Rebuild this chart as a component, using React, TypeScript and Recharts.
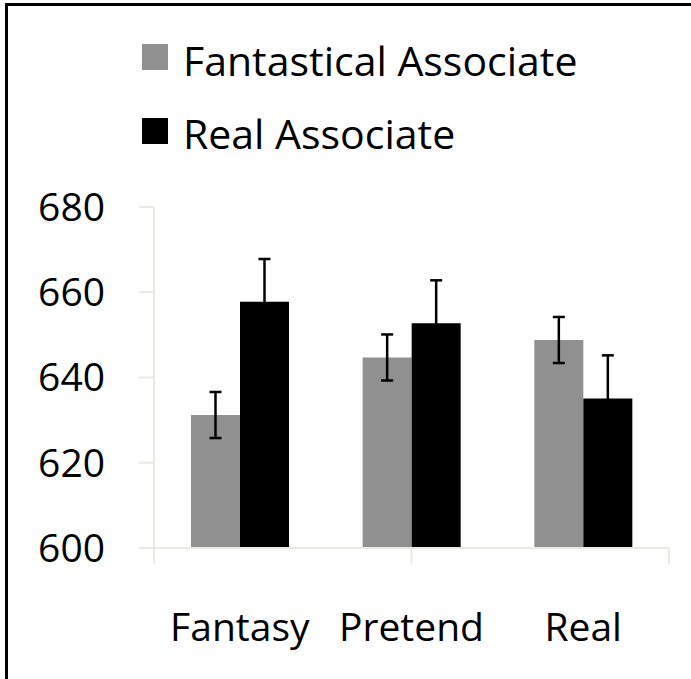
import React from 'react';
import { BarChart, Bar, XAxis, YAxis, ErrorBar } from 'recharts';

const categories = ['Fantasy', 'Pretend', 'Real'];
const fantasticalValues = [631.2, 644.7, 648.8];
const fantasticalErrors = [5.4, 5.4, 5.4];
const realValues = [657.8, 652.7, 635.1];
const realErrors = [10.0, 10.1, 10.1];
const yTicks = [600, 620, 640, 660, 680];
const boundaryTicks = [0, 1, 2, 3];

const seriesNames = ['Fantastical Associate', 'Real Associate'];
const seriesColors = ['#909090', '#000000'];

const FONT = '"Open Sans", sans-serif';
const AXIS_COLOR = '#ECE9E2';

const data = categories.map((name, i) => ({
  name,
  fantastical: fantasticalValues[i],
  fantasticalErr: fantasticalErrors[i],
  real: realValues[i],
  realErr: realErrors[i],
}));

function LegendBlock() {
  return (
    <div style={{ position: 'absolute', left: 142, top: 40 }}>
      {seriesNames.map((name, i) => (
        <div key={name} style={{ position: 'relative', height: 73 }}>
          <div
            style={{
              position: 'absolute',
              left: 0,
              top: 4 + i,
              width: 26,
              height: 26,
              background: seriesColors[i],
            }}
          />
          <span
            style={{
              position: 'absolute',
              left: 41,
              top: 0,
              fontFamily: FONT,
              fontSize: 41,
              lineHeight: '40px',
              whiteSpace: 'nowrap',
              color: '#000',
            }}
          >
            {name}
          </span>
        </div>
      ))}
    </div>
  );
}

export default function App() {
  return (
    <div
      style={{
        position: 'absolute',
        left: 0,
        top: 0,
        width: 691,
        height: 679,
        background: '#fff',
        overflow: 'hidden',
      }}
    >
      <div
        style={{
          position: 'absolute',
          left: 5,
          top: 3,
          right: 0,
          bottom: 0,
          borderLeft: '3px solid #000',
          borderTop: '3px solid #000',
        }}
      />
      <LegendBlock />
      <div style={{ position: 'absolute', left: 0, top: 0 }}>
        <BarChart
          width={691}
          height={679}
          data={data}
          margin={{ top: 207, right: 22, bottom: 129, left: 0 }}
          barGap={0}
          barSize={49}
        >
          <XAxis
            dataKey="name"
            height={1}
            axisLine={{ stroke: AXIS_COLOR, strokeWidth: 2 }}
            tickLine={false}
            tickSize={0}
            tickMargin={65}
            tick={{ fill: '#000', fontSize: 39, fontFamily: FONT }}
            interval={0}
          />
          <XAxis
            xAxisId="b"
            type="number"
            domain={[0, 3]}
            ticks={boundaryTicks}
            height={1}
            axisLine={false}
            tickSize={15}
            tickLine={{ stroke: AXIS_COLOR, strokeWidth: 2 }}
            tickFormatter={() => ''}
          />
          <YAxis
            width={154}
            domain={[600, 680]}
            ticks={yTicks}
            interval={0}
            axisLine={{ stroke: AXIS_COLOR, strokeWidth: 2 }}
            tickLine={{ stroke: AXIS_COLOR, strokeWidth: 2 }}
            tickSize={15}
            tickMargin={34}
            tick={{ fill: '#000', fontSize: 39, fontFamily: FONT }}
          />
          <Bar
            dataKey="fantastical"
            name={seriesNames[0]}
            fill={seriesColors[0]}
            isAnimationActive={false}
          >
            <ErrorBar
              dataKey="fantasticalErr"
              width={6}
              stroke="#000"
              strokeWidth={2.5}
              isAnimationActive={false}
            />
          </Bar>
          <Bar
            dataKey="real"
            name={seriesNames[1]}
            fill={seriesColors[1]}
            isAnimationActive={false}
          >
            <ErrorBar
              dataKey="realErr"
              width={6}
              stroke="#000"
              strokeWidth={2.5}
              isAnimationActive={false}
            />
          </Bar>
        </BarChart>
      </div>
    </div>
  );
}
